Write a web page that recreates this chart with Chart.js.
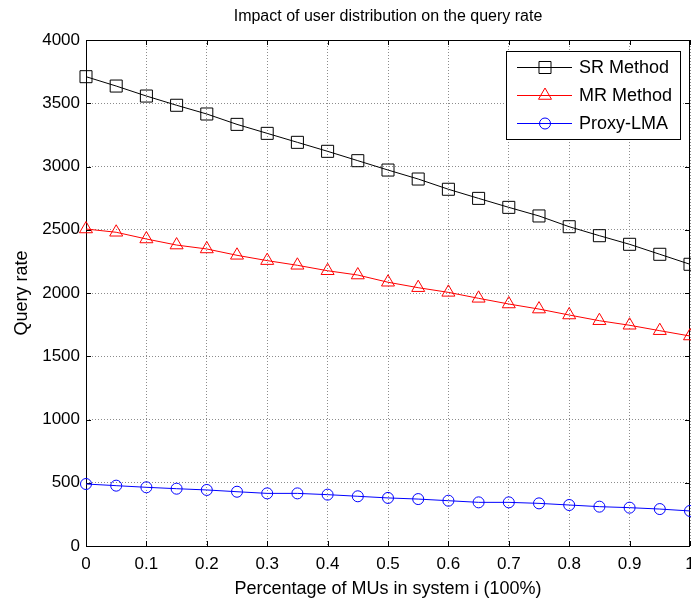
<!DOCTYPE html>
<html>
<head>
<meta charset="utf-8">
<script src="https://cdn.jsdelivr.net/npm/chart.js@4"></script>
<style>
  html, body { margin: 0; padding: 0; background: #fff; }
  #wrap { width: 691px; height: 600px; }
</style>
</head>
<body>
<div id="wrap"><canvas id="chart" width="691" height="600"></canvas></div>
<script>
// data
const xValues = [0, 0.05, 0.1, 0.15, 0.2, 0.25, 0.3, 0.35, 0.4, 0.45, 0.5,
                 0.55, 0.6, 0.65, 0.7, 0.75, 0.8, 0.85, 0.9, 0.95, 1];
const srMethod = [3710, 3636, 3557, 3484, 3415, 3333, 3262, 3191, 3120, 3046, 2972,
                  2901, 2820, 2748, 2677, 2609, 2524, 2453, 2385, 2306, 2227];
const mrMethod = [2506, 2480, 2427, 2379, 2348, 2298, 2256, 2219, 2176, 2142, 2085,
                  2042, 2005, 1958, 1913, 1873, 1826, 1781, 1745, 1702, 1660];
const proxyLma = [490, 477, 464, 453, 443, 429, 416, 416, 406, 393, 380,
                  371, 358, 345, 345, 337, 324, 311, 303, 292, 277];
const xTickLabels = ['0', '0.1', '0.2', '0.3', '0.4', '0.5', '0.6', '0.7', '0.8', '0.9', '1'];
const yTickLabels = ['0', '500', '1000', '1500', '2000', '2500', '3000', '3500', '4000'];
const seriesNames = ['SR Method', 'MR Method', 'Proxy-LMA'];

const FONT = "'Liberation Sans', Arial, sans-serif";
const NO_PAD = () => ({ left: 0, top: 0, right: 0, bottom: 0 });

function toPoints(ys) {
  return ys.map((y, i) => ({ x: xValues[i], y }));
}

// MATLAB style box: frame + inward ticks on all four sides
const boxPlugin = {
  id: 'matlabBox',
  beforeDatasetsDraw(chart) {
    const { ctx, chartArea: a, scales } = chart;
    ctx.save();
    ctx.strokeStyle = '#000';
    ctx.lineWidth = 1;
    ctx.beginPath();
    scales.x.ticks.forEach(t => {
      const px = Math.round(scales.x.getPixelForValue(t.value)) + 0.5;
      ctx.moveTo(px, a.bottom); ctx.lineTo(px, a.bottom - 5);
      ctx.moveTo(px, a.top); ctx.lineTo(px, a.top + 5);
    });
    scales.y.ticks.forEach(t => {
      const py = Math.round(scales.y.getPixelForValue(t.value)) + 0.5;
      ctx.moveTo(a.left, py); ctx.lineTo(a.left + 5, py);
      ctx.moveTo(a.right, py); ctx.lineTo(a.right - 5, py);
    });
    ctx.stroke();
    ctx.strokeRect(Math.round(a.left) + 0.5, Math.round(a.top) + 0.5,
                   Math.round(a.right - a.left) - 1, Math.round(a.bottom - a.top));
    ctx.restore();
  },
  afterDraw(chart) {
    const { ctx, chartArea: a } = chart;
    ctx.save();
    // title centred over the axes
    ctx.fillStyle = '#000';
    ctx.font = '16px ' + FONT;
    ctx.textAlign = 'center';
    ctx.textBaseline = 'middle';
    ctx.fillText('Impact of user distribution on the query rate', (a.left + a.right) / 2, 17);

    // legend box in the upper right corner
    const w = 174, h = 88;
    const lx = a.right - 10 - w, ly = a.top + 11;
    ctx.fillStyle = '#fff';
    ctx.fillRect(lx, ly, w, h);
    ctx.strokeStyle = '#000';
    ctx.lineWidth = 1;
    ctx.strokeRect(Math.round(lx) + 0.5, Math.round(ly) + 0.5, w, h);
    ctx.font = '18px ' + FONT;
    ctx.textAlign = 'left';
    chart.data.datasets.forEach((ds, i) => {
      const rowY = ly + 16 + i * 28;
      ctx.strokeStyle = ds.borderColor;
      ctx.lineWidth = 1;
      ctx.beginPath();
      ctx.moveTo(lx + 11, rowY + 0.5);
      ctx.lineTo(lx + 66, rowY + 0.5);
      ctx.stroke();
      ctx.fillStyle = 'rgba(0,0,0,0)';
      Chart.helpers.drawPoint(ctx, {
        pointStyle: ds.pointStyle, radius: ds.pointRadius, borderWidth: 1, rotation: 0
      }, lx + 39, rowY + 0.5);
      ctx.fillStyle = '#000';
      ctx.fillText(ds.label, lx + 73, rowY + 1);
    });
    ctx.restore();
  }
};

function makeSeries(label, values, color, style, radius) {
  return {
    label,
    data: toPoints(values),
    borderColor: color,
    backgroundColor: color,
    borderWidth: 1,
    pointStyle: style,
    pointRadius: radius,
    pointHoverRadius: radius,
    pointBorderColor: color,
    pointBackgroundColor: 'rgba(0,0,0,0)',
    pointBorderWidth: 1,
    tension: 0,
    clip: false
  };
}

new Chart(document.getElementById('chart').getContext('2d'), {
  type: 'line',
  data: {
    datasets: [
      makeSeries(seriesNames[0], srMethod, '#000000', 'rect', 8.5),
      makeSeries(seriesNames[1], mrMethod, '#ff0000', 'triangle', 7.5),
      makeSeries(seriesNames[2], proxyLma, '#0000ff', 'circle', 5.5)
    ]
  },
  options: {
    responsive: false,
    animation: false,
    events: [],
    layout: { autoPadding: false, padding: { top: 40, right: 1, left: 0, bottom: 0 } },
    plugins: {
      legend: { display: false },
      title: { display: false },
      tooltip: { enabled: false }
    },
    scales: {
      x: {
        type: 'linear',
        min: 0,
        max: 1,
        ticks: {
          stepSize: 0.1,
          color: '#000',
          padding: 8,
          maxRotation: 0,
          font: { family: FONT, size: 17 },
          callback: (v) => xTickLabels[Math.round(v * 10)]
        },
        grid: { color: '#8c8c8c', drawTicks: false, lineWidth: 1 },
        border: { display: false, dash: [1, 2] },
        title: {
          display: true,
          text: 'Percentage of MUs in system i (100%)',
          color: '#000',
          font: { family: FONT, size: 18 },
          padding: { top: 0, bottom: 0.5 }
        },
        afterFit(scale) {
          scale.height = 54;
          scale.paddingLeft = 0;
          scale.paddingRight = 0;
          scale.getPadding = NO_PAD;
        }
      },
      y: {
        min: 0,
        max: 4000,
        ticks: {
          stepSize: 500,
          color: '#000',
          padding: 6,
          font: { family: FONT, size: 17 },
          callback: (v) => yTickLabels[Math.round(v / 500)]
        },
        grid: { color: '#8c8c8c', drawTicks: false, lineWidth: 1 },
        border: { display: false, dash: [1, 2] },
        title: {
          display: true,
          text: 'Query rate',
          color: '#000',
          font: { family: FONT, size: 18 },
          padding: { top: 11, bottom: 0 }
        },
        afterFit(scale) {
          scale.width = 86;
          scale.paddingTop = 0;
          scale.paddingBottom = 0;
          scale.getPadding = NO_PAD;
        }
      }
    }
  },
  plugins: [boxPlugin]
});
</script>
</body>
</html>
